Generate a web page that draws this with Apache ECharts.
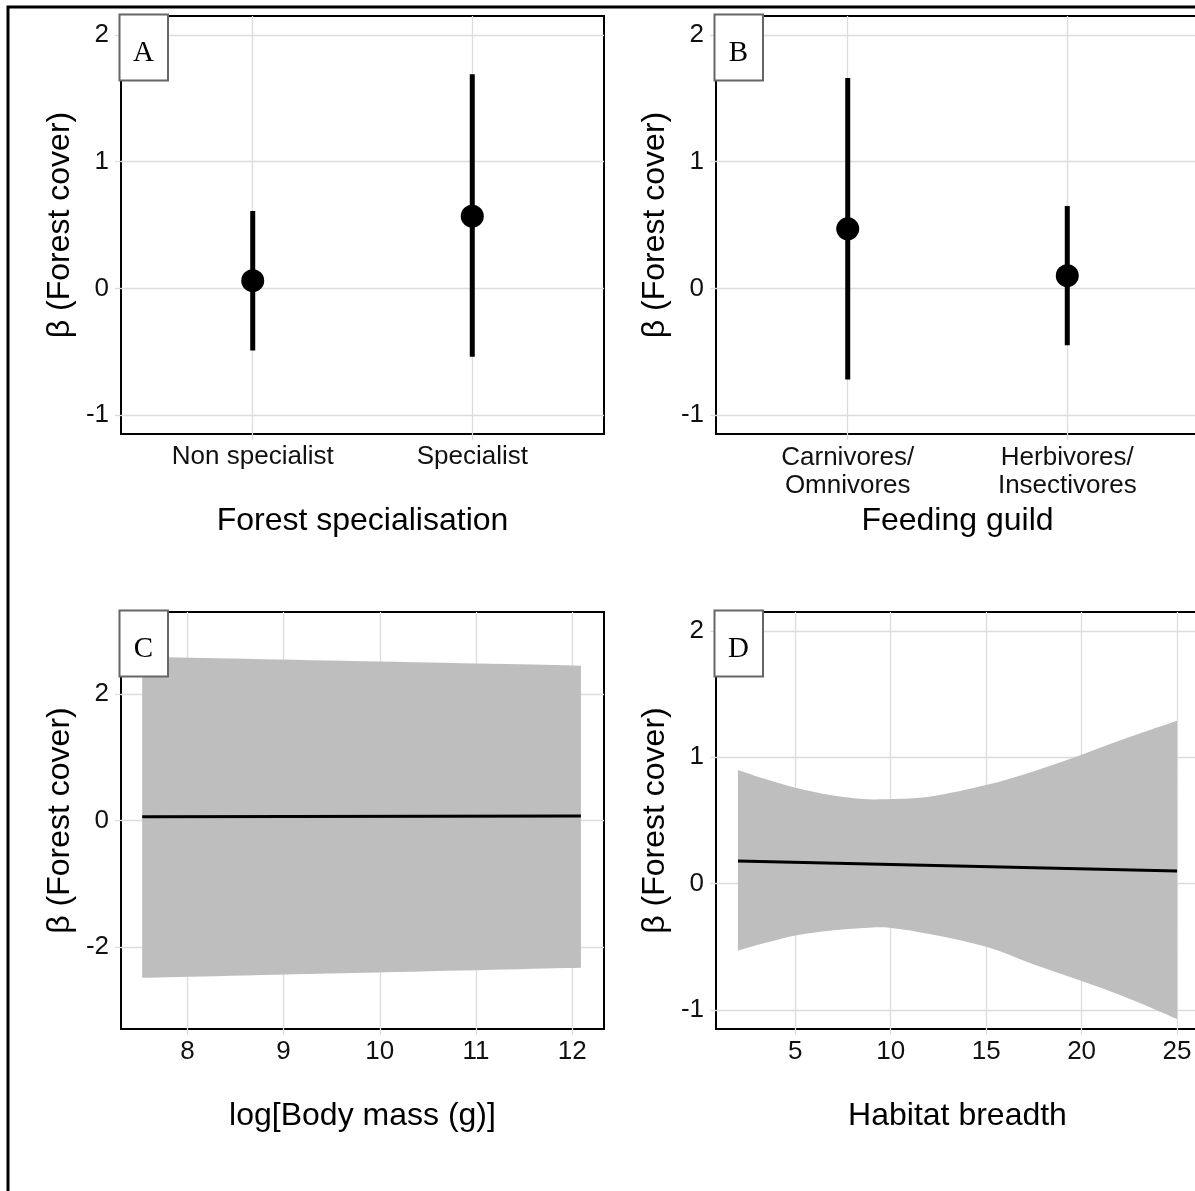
<!DOCTYPE html>
<html><head><meta charset="utf-8">
<script src="https://cdn.jsdelivr.net/npm/echarts@6/dist/echarts.min.js"></script>
<style>html,body{margin:0;padding:0;background:#fff}#c{width:1195px;height:1191px}</style>
</head><body><div id="c"></div>
<script>
// ---- data ----
const specCats = ['Non specialist', 'Specialist'];
const specEst  = [0.06, 0.57];
const specLow  = [-0.49, -0.54];
const specHigh = [0.61, 1.69];

const guildCats = ['Carnivores/\nOmnivores', 'Herbivores/\nInsectivores'];
const guildEst  = [0.47, 0.10];
const guildLow  = [-0.72, -0.45];
const guildHigh = [1.66, 0.65];

const massX    = [7.53, 12.09];
const massFit  = [0.06, 0.07];
const massLow  = [-2.49, -2.33];
const massHigh = [2.59, 2.45];

const breadthX    = [2, 3.4, 5, 6.9, 8.6, 10, 12.1, 15, 17.5, 20, 22.5, 25];
const breadthLow  = [-0.53, -0.47, -0.41, -0.37, -0.35, -0.35, -0.40, -0.50, -0.64, -0.77, -0.91, -1.07];
const breadthHigh = [0.90, 0.83, 0.76, 0.70, 0.67, 0.67, 0.69, 0.78, 0.89, 1.02, 1.16, 1.29];
const breadthFitX = [2, 25];
const breadthFit  = [0.18, 0.10];

const betaTicks     = [-1, 0, 1, 2];
const massYTicks    = [-2, 0, 2];
const massXTicks    = [8, 9, 10, 11, 12];
const breadthXTicks = [5, 10, 15, 20, 25];
const catTicks      = [1, 2];
const panelLetters  = ['A', 'B', 'C', 'D'];
const xTitles = ['Forest specialisation', 'Feeding guild', 'log[Body mass (g)]', 'Habitat breadth'];
const yTitle = 'β (Forest cover)';

// ---- styling ----
const FONT = '"Liberation Sans", Arial, sans-serif';
const GRIDC = '#dcdcdc';
const grids = [
  {left: 121, top: 16, width: 483, height: 418},
  {left: 716, top: 16, width: 483, height: 418},
  {left: 121, top: 612, width: 483, height: 417},
  {left: 716, top: 612, width: 483, height: 417}
];

function xAxisOf(i, min, max, ticks, fmt, extraLabel) {
  return {
    type: 'value', gridIndex: i, min: min, max: max,
    name: xTitles[i], nameLocation: 'middle', nameGap: 71,
    nameTextStyle: {fontFamily: FONT, fontSize: 32, color: '#000'},
    axisLine: {show: false, onZero: false},
    axisTick: {show: true, length: 6, customValues: ticks, lineStyle: {color: GRIDC, width: 1.3}},
    splitLine: {show: true, lineStyle: {color: GRIDC, width: 1.3}},
    axisLabel: Object.assign({customValues: ticks, margin: 10, fontFamily: FONT, fontSize: 26, color: '#111',
      formatter: fmt}, extraLabel || {})
  };
}
function yAxisOf(i, min, max, ticks) {
  return {
    type: 'value', gridIndex: i, min: min, max: max,
    name: yTitle, nameLocation: 'middle', nameGap: 45,
    nameTextStyle: {fontFamily: FONT, fontSize: 32, color: '#000'},
    axisLine: {show: false, onZero: false},
    axisTick: {show: true, length: 6, customValues: ticks, lineStyle: {color: GRIDC, width: 1.3}},
    splitLine: {show: true, lineStyle: {color: GRIDC, width: 1.3}},
    axisLabel: {customValues: ticks, margin: 12, fontFamily: FONT, fontSize: 26, color: '#111'}
  };
}

function errRender(params, api) {
  const x = api.value(0);
  const p1 = api.coord([x, api.value(1)]);
  const p2 = api.coord([x, api.value(2)]);
  return {type: 'line', shape: {x1: p1[0], y1: p1[1], x2: p2[0], y2: p2[1]},
    style: {stroke: '#000', lineWidth: 5}};
}
// smooth curve through pixel points (Catmull-Rom -> cubic Bezier), rendering only
function curvePath(pts) {
  let d = '';
  for (let i = 0; i < pts.length - 1; i++) {
    const p0 = pts[Math.max(i - 1, 0)], p1 = pts[i], p2 = pts[i + 1], p3 = pts[Math.min(i + 2, pts.length - 1)];
    const c1 = [p1[0] + (p2[0] - p0[0]) / 6, p1[1] + (p2[1] - p0[1]) / 6];
    const c2 = [p2[0] - (p3[0] - p1[0]) / 6, p2[1] - (p3[1] - p1[1]) / 6];
    d += ' C' + c1[0] + ',' + c1[1] + ' ' + c2[0] + ',' + c2[1] + ' ' + p2[0] + ',' + p2[1];
  }
  return d;
}
function ribbonRender(xs, lo, hi) {
  return function (params, api) {
    if (params.dataIndex !== 0) return null;
    const up = xs.map((x, i) => api.coord([x, hi[i]]));
    const dn = xs.map((x, i) => api.coord([x, lo[i]])).reverse();
    const d = 'M' + up[0][0] + ',' + up[0][1] + curvePath(up) +
      ' L' + dn[0][0] + ',' + dn[0][1] + curvePath(dn) + ' Z';
    return {type: 'path', shape: {pathData: d}, style: {fill: '#bebebe', stroke: null}};
  };
}

const series = [
  // A
  {type: 'custom', xAxisIndex: 0, yAxisIndex: 0, renderItem: errRender, encode: {x: 0, y: [1, 2]},
    data: specCats.map((c, i) => [i + 1, specLow[i], specHigh[i]]), z: 3},
  {type: 'scatter', xAxisIndex: 0, yAxisIndex: 0, symbolSize: 23, itemStyle: {color: '#000', opacity: 1},
    data: specCats.map((c, i) => [i + 1, specEst[i]]), z: 4},
  // B
  {type: 'custom', xAxisIndex: 1, yAxisIndex: 1, renderItem: errRender, encode: {x: 0, y: [1, 2]},
    data: guildCats.map((c, i) => [i + 1, guildLow[i], guildHigh[i]]), z: 3},
  {type: 'scatter', xAxisIndex: 1, yAxisIndex: 1, symbolSize: 23, itemStyle: {color: '#000', opacity: 1},
    data: guildCats.map((c, i) => [i + 1, guildEst[i]]), z: 4},
  // C
  {type: 'custom', xAxisIndex: 2, yAxisIndex: 2, renderItem: ribbonRender(massX, massLow, massHigh),
    encode: {x: 0, y: [1, 2]}, data: massX.map((x, i) => [x, massLow[i], massHigh[i]]), z: 2},
  {type: 'line', xAxisIndex: 2, yAxisIndex: 2, symbol: 'none', lineStyle: {color: '#000', width: 3},
    data: massX.map((x, i) => [x, massFit[i]]), z: 3},
  // D
  {type: 'custom', xAxisIndex: 3, yAxisIndex: 3, renderItem: ribbonRender(breadthX, breadthLow, breadthHigh),
    encode: {x: 0, y: [1, 2]}, data: breadthX.map((x, i) => [x, breadthLow[i], breadthHigh[i]]), z: 2},
  {type: 'line', xAxisIndex: 3, yAxisIndex: 3, symbol: 'none', lineStyle: {color: '#000', width: 3},
    data: breadthFitX.map((x, i) => [x, breadthFit[i]]), z: 3}
];

const graphic = [
  {type: 'rect', shape: {x: 8, y: 7, width: 1400, height: 1400}, style: {fill: 'none', stroke: '#000', lineWidth: 3}, z: 200}
];
grids.forEach((g, i) => {
  graphic.push({type: 'rect', shape: {x: g.left - 1.5, y: g.top - 1.5, width: 48.5, height: 66},
    style: {fill: '#fff', stroke: '#666', lineWidth: 2}, z: 100});
  graphic.push({type: 'text', x: g.left + 22.5, y: g.top + 37,
    style: {text: panelLetters[i], font: '29px "Liberation Serif", "Times New Roman", serif', fill: '#000',
      align: 'center', verticalAlign: 'middle'}, z: 101});
});

const option = {
  animation: false,
  backgroundColor: '#fff',
  grid: grids.map(g => Object.assign({show: true, borderColor: '#000', borderWidth: 2, backgroundColor: 'transparent',
    containLabel: false, outerBoundsMode: 'none'}, g)),
  xAxis: [
    xAxisOf(0, 0.4, 2.6, catTicks, v => specCats[Math.round(v) - 1]),
    xAxisOf(1, 0.4, 2.6, catTicks, v => guildCats[Math.round(v) - 1], {lineHeight: 28}),
    xAxisOf(2, 7.31, 12.33, massXTicks),
    xAxisOf(3, 0.85, 26.15, breadthXTicks)
  ],
  yAxis: [
    yAxisOf(0, -1.15, 2.15, betaTicks),
    yAxisOf(1, -1.15, 2.15, betaTicks),
    yAxisOf(2, -3.3, 3.3, massYTicks),
    yAxisOf(3, -1.15, 2.15, betaTicks)
  ],
  series: series,
  graphic: graphic
};
const chart = echarts.init(document.getElementById('c'), null, {renderer: 'canvas'});
chart.setOption(option);
</script></body></html>
